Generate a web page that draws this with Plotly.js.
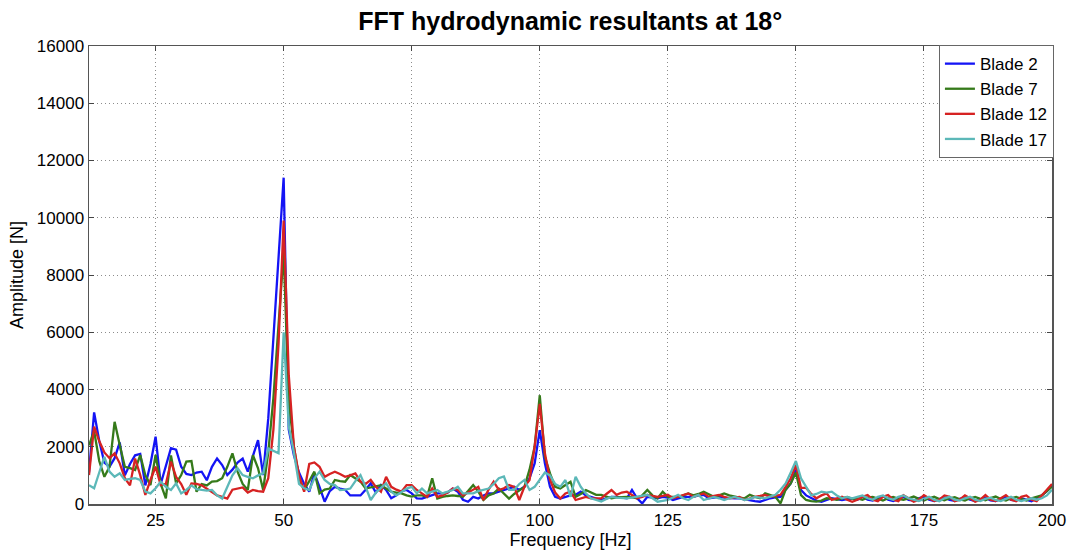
<!DOCTYPE html>
<html>
<head>
<meta charset="utf-8">
<script src="https://cdn.plot.ly/plotly-3.0.1.min.js"></script>
<style>html,body{margin:0;padding:0;background:#fff;}#chart{width:1074px;height:551px;}</style>
</head>
<body>
<div id="chart"></div>
<script>
// Frequency grid (Hz): first bin and bin spacing
const freqStart = 12;
const freqStep = 1;

const seriesNames = ["Blade 2", "Blade 7", "Blade 12", "Blade 17"];
const seriesColors = ["#1414f5", "#357a1a", "#d62222", "#5cb8b8"];

// Amplitude [N], one value per frequency bin (12 Hz ... 200 Hz)
const blade2 = [
  1100,3200,2200,1450,1300,1600,2150,1000,1400,1700,
  1750,650,1400,2350,700,1300,1950,1900,1300,1050,
  1010,1100,1130,830,1300,1590,1360,1010,1200,1450,
  1590,1130,1710,2230,1010,3000,5800,8600,11400,2600,
  1700,1100,700,430,1070,600,80,450,600,540,
  500,300,300,300,500,720,400,660,490,200,
  300,450,490,370,200,190,250,300,370,370,
  400,540,430,150,80,250,190,300,370,370,
  430,490,550,600,490,600,900,1420,2580,1420,
  600,250,190,250,300,320,430,300,250,180,
  140,200,250,250,220,200,490,200,20,250,
  220,200,250,220,140,200,250,250,250,300,
  320,200,230,250,220,200,200,200,160,140,
  100,80,150,200,230,250,500,720,1200,490,
  300,200,120,80,150,200,170,140,170,200,
  150,250,150,120,200,280,150,100,180,250,
  140,120,200,260,150,100,170,230,140,110,
  180,240,150,100,160,220,130,100,180,250,
  140,120,200,150,100,200,300,450,650
];
const blade7 = [
  2050,2550,1500,950,1300,2870,2060,1300,1250,1190,
  1710,1000,660,1710,700,200,1700,720,1010,1480,
  1500,430,700,650,780,800,900,1300,1770,1130,
  700,490,1710,1250,490,1800,3700,6300,8800,3600,
  2000,900,490,800,1130,370,500,540,840,800,
  780,1010,900,780,540,580,600,660,540,430,
  400,370,300,260,300,300,250,900,190,250,
  280,300,280,250,450,660,430,140,300,370,
  540,370,190,350,490,600,1200,2000,3800,1650,
  1070,600,540,660,780,250,350,490,400,320,
  320,260,200,230,250,250,230,200,300,490,
  300,200,430,250,250,250,300,370,300,350,
  430,330,250,300,370,300,250,220,200,320,
  250,200,370,300,250,20,500,720,1100,310,
  140,100,80,120,200,180,150,200,250,180,
  200,150,220,250,180,120,200,250,180,150,
  200,260,180,120,200,250,170,130,200,240,
  160,120,200,250,180,130,210,260,170,120,
  200,250,180,120,200,250,300,450,600
];
const blade12 = [
  1010,2700,2200,1800,1600,1770,1420,900,650,1590,
  1010,320,840,1300,660,700,1480,950,700,320,
  720,700,650,530,400,300,250,190,500,530,
  580,400,490,450,430,900,2600,5600,9900,4500,
  2000,1000,430,1400,1450,1300,950,1050,1130,1050,
  950,1000,1070,780,700,840,600,430,950,600,
  500,430,660,660,490,370,250,540,250,300,
  400,540,490,300,400,490,600,140,500,780,
  490,550,660,600,140,600,840,2000,3500,1770,
  840,400,190,370,430,140,200,250,200,200,
  200,350,490,320,400,430,320,200,250,320,
  280,250,280,320,200,260,320,370,250,300,
  370,250,280,320,250,200,220,250,140,200,
  250,280,320,250,280,320,600,900,1360,560,
  560,350,200,300,370,140,200,250,150,80,
  150,250,310,150,100,250,310,150,100,310,
  200,80,150,310,200,100,150,300,250,100,
  150,300,200,80,150,310,150,100,200,310,
  150,100,250,300,150,100,300,500,700
];
const blade17 = [
  660,550,1100,1650,1130,950,1070,840,880,900,
  840,430,370,550,780,600,490,720,370,490,
  650,520,490,470,490,300,190,600,1000,1250,
  1010,950,900,1000,1070,1940,1850,1770,6000,2700,
  1800,700,550,490,900,1130,840,700,660,490,
  500,540,800,1010,600,140,400,560,720,430,
  300,420,540,600,370,540,370,430,490,370,
  430,490,600,370,370,370,450,490,540,700,
  900,960,490,490,700,840,490,600,840,1100,
  1000,700,600,840,250,950,600,370,200,150,
  90,180,250,220,200,200,220,250,280,320,
  200,80,110,140,230,320,200,140,250,320,
  140,200,250,200,140,200,250,200,140,180,
  250,220,200,260,320,500,720,1100,1500,900,
  600,300,350,430,400,430,300,200,250,200,
  250,300,200,150,250,300,200,150,250,300,
  200,150,100,180,250,150,100,200,250,150,
  120,200,250,150,100,180,220,140,100,180,
  250,150,100,150,200,150,200,300,500
];

const seriesValues = [blade2, blade7, blade12, blade17];
const freq = blade2.map((_, i) => freqStart + i * freqStep);

const traces = seriesValues.map((vals, k) => ({
  type: "scatter",
  mode: "lines",
  x: freq,
  y: vals,
  name: seriesNames[k],
  line: {color: seriesColors[k], width: 2.3}
}));

const font = "Liberation Sans, Arial, sans-serif";
const gridStyle = {showgrid: true, gridcolor: "#8c8c8c", griddash: "1px,3px", gridwidth: 1};
const layout = {
  width: 1074,
  height: 551,
  margin: {l: 89, r: 22, t: 46, b: 47},
  paper_bgcolor: "#ffffff",
  plot_bgcolor: "#ffffff",
  font: {family: font, size: 17, color: "#000"},
  title: {
    text: "<b>FFT hydrodynamic resultants at 18°</b>",
    font: {family: font, size: 25, color: "#000"},
    x: 0.531, xanchor: "center", y: 0.962, yanchor: "middle"
  },
  xaxis: Object.assign({
    range: [12, 200],
    tickvals: [25, 50, 75, 100, 125, 150, 175, 200],
    ticks: "inside", ticklen: 5, tickcolor: "#444",
    zeroline: false,
    showline: true, linecolor: "#555", linewidth: 1.5, mirror: "ticks",
    tickfont: {size: 17},
    title: {text: "Frequency [Hz]", font: {size: 18}, standoff: 2}
  }, gridStyle),
  yaxis: Object.assign({
    range: [0, 16000],
    tickvals: [0, 2000, 4000, 6000, 8000, 10000, 12000, 14000, 16000],
    ticktext: ["0", "2000", "4000", "6000", "8000", "10000", "12000", "14000", "16000"],
    ticks: "inside", ticklen: 5, tickcolor: "#444",
    zeroline: false,
    showline: true, linecolor: "#555", linewidth: 1.5, mirror: "ticks",
    tickfont: {size: 17},
    title: {text: "Amplitude [N]", font: {size: 18}, standoff: 8}
  }, gridStyle),
  legend: {
    x: 1.002, xanchor: "right", y: 1.002, yanchor: "top",
    bgcolor: "#ffffff", bordercolor: "#666", borderwidth: 1,
    font: {size: 17, family: font},
    tracegroupgap: 0, itemwidth: 30
  },
  showlegend: true
};

Plotly.newPlot("chart", traces, layout, {displayModeBar: false, staticPlot: true});
</script>
</body>
</html>
